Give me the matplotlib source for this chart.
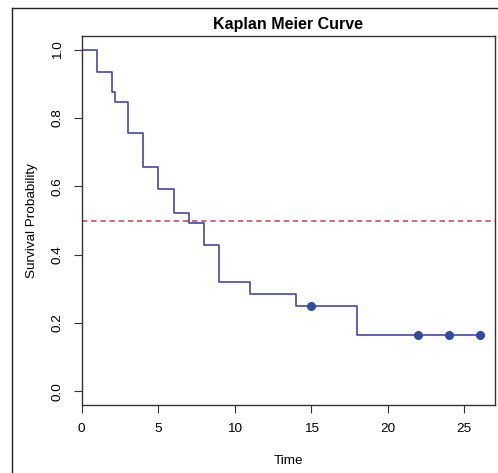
import matplotlib
matplotlib.use("Agg")
import matplotlib.pyplot as plt
from matplotlib.lines import Line2D

plt.rcParams['font.family'] = ['Liberation Sans', 'DejaVu Sans']

# Kaplan-Meier step data
times = [0, 1, 2, 2.2, 3, 4, 5, 6, 7, 8, 9, 11, 14, 18, 26]
surv = [1.0, 0.936, 0.877, 0.846, 0.755, 0.656, 0.591, 0.522, 0.492, 0.427,
        0.320, 0.286, 0.249, 0.166, 0.166]
censor_times = [15, 22, 24, 26]
censor_surv = [0.249, 0.166, 0.166, 0.166]
median_line = 0.5
x_ticks = [0, 5, 10, 15, 20, 25]
y_ticks = [0.0, 0.2, 0.4, 0.6, 0.8, 1.0]

W, H = 498, 473
fig = plt.figure(figsize=(W / 100, H / 100), dpi=100)
ax = fig.add_axes([81.7 / W, (H - 405) / H, (495 - 81.7) / W, (405 - 36) / H])

ax.step(times, surv, where='post', color='#4747A8', lw=1.2)
ax.plot(censor_times, censor_surv, 'o', color='#2F4C9E', ms=5.5, mec='#2F4C9E')
ax.axhline(median_line, color='#B8434F', lw=1.1, ls=(0, (3.5, 2.5)))

ax.set_xlim(0, 27.0)
ax.set_ylim(-0.04, 1.04)
ax.set_xticks(x_ticks)
ax.set_xticklabels([str(v) for v in x_ticks], fontsize=9.7)
ax.set_yticks(y_ticks)
ax.set_yticklabels([f"{v:.1f}" for v in y_ticks], fontsize=9.7, rotation=90, va='center')
ax.tick_params(axis='x', length=6, width=0.8, color='#333333', pad=7)
ax.tick_params(axis='y', length=6, width=0.8, color='#333333', pad=7)
for s in ax.spines.values():
    s.set_linewidth(1.0)
    s.set_color('#333333')

ax.set_xlabel('Time', fontsize=9.7, labelpad=14)
ax.set_ylabel('Survival Probability', fontsize=9.7, labelpad=10)
ax.set_title('Kaplan Meier Curve', fontsize=11.5, fontweight='bold', pad=5)

# outer frame
fig.add_artist(Line2D([12 / W, 12 / W], [0, 1 - 8 / H], transform=fig.transFigure,
                      color='#222222', lw=1.0))
fig.add_artist(Line2D([12 / W, 1], [1 - 8 / H, 1 - 8 / H], transform=fig.transFigure,
                      color='#222222', lw=1.0))

fig.savefig('out.png', dpi=100)
